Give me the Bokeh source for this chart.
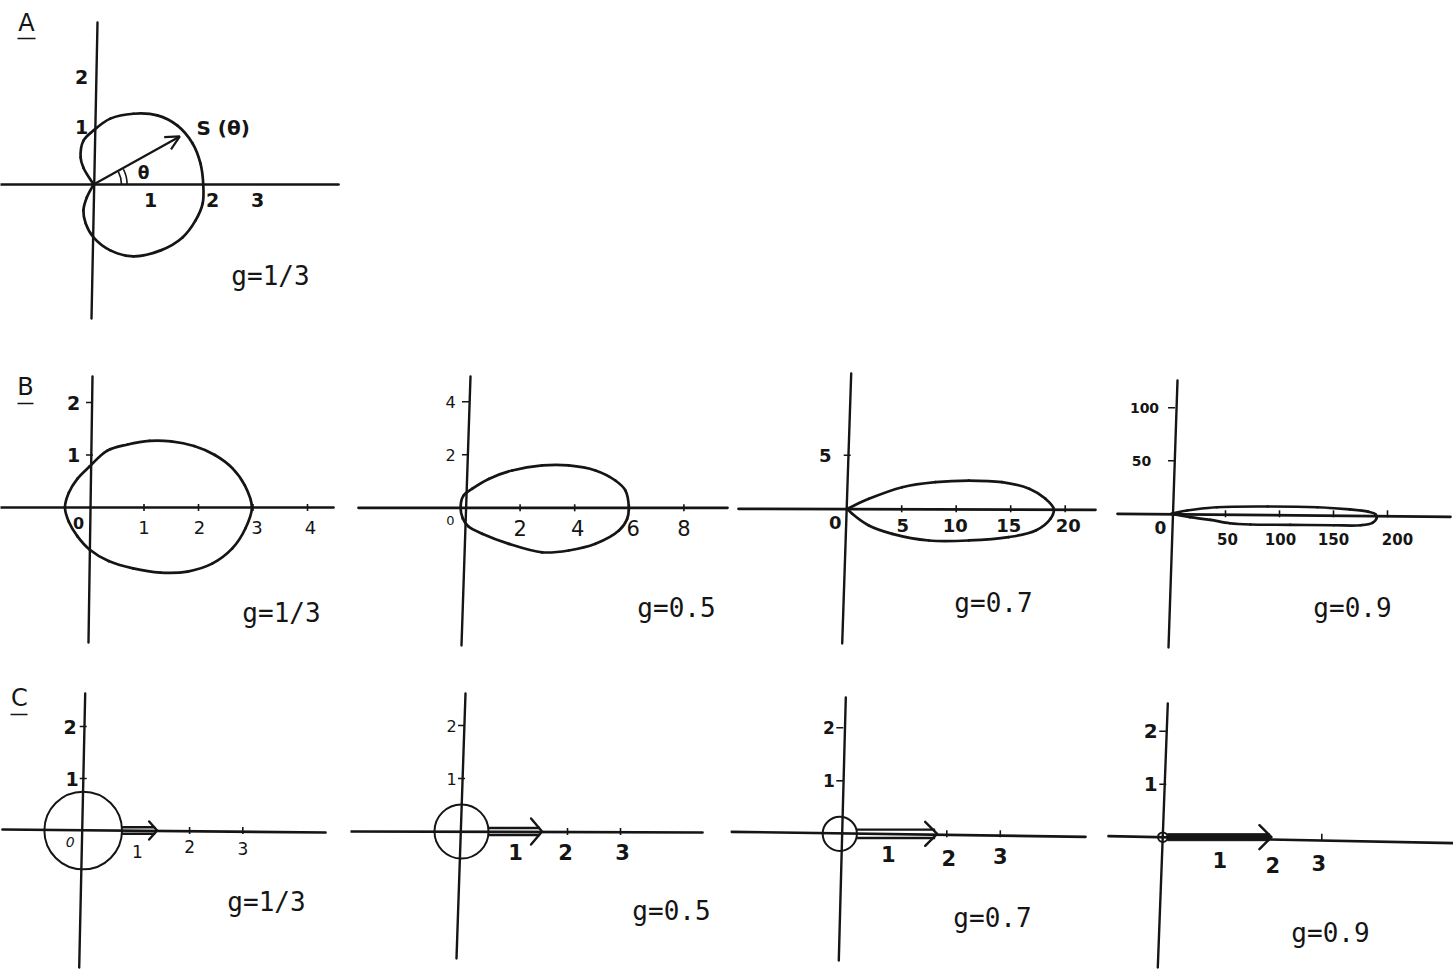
import numpy as np
from bokeh.plotting import figure
from bokeh.layouts import column, row
from bokeh.models import Range1d, Arrow, OpenHead
from bokeh.core.properties import value
from bokeh.embed import file_html
from bokeh.resources import INLINE

INK = "#151515"
HAND = "DejaVu Sans"
TYPE = "DejaVu Sans Mono"

# ---------------- data ----------------
# A: scattering diagram S(theta) for g = 1/3 (outline points, data units)
A_X = [0.0, -0.18, -0.23, -0.18, 0.0, 0.30, 0.71, 1.14, 1.50, 1.77, 1.91, 1.96,
       1.95, 1.82, 1.59, 1.20, 0.71, 0.30, 0.0, -0.14, -0.18, -0.12, 0.0]
A_Y = [0.0, 0.31, 0.50, 0.81, 1.0, 1.22, 1.31, 1.28, 1.09, 0.76, 0.39, 0.0,
       -0.35, -0.67, -0.98, -1.22, -1.33, -1.22, -0.98, -0.72, -0.48, -0.24, 0.0]
A_THETA_DEG = 30
A_ARROW_R = 1.78
A_XTICKS = [1, 2, 3]
A_YTICKS = [1, 2]
A_G = "g=1/3"

# B: phase functions for increasing asymmetry g (outline points, data units)
B_G = ["g=1/3", "g=0.5", "g=0.7", "g=0.9"]
B1_X = [2.98, 2.85, 2.62, 2.30, 1.92, 1.50, 1.10, 0.70, 0.32, 0.0, -0.22, -0.38,
        -0.45, -0.38, -0.22, 0.0, 0.35, 0.80, 1.30, 1.80, 2.25, 2.62, 2.86]
B1_Y = [0.0, 0.42, 0.75, 1.00, 1.17, 1.26, 1.27, 1.20, 1.08, 0.78, 0.55, 0.28,
        0.0, -0.27, -0.55, -0.80, -1.02, -1.16, -1.24, -1.22, -1.07, -0.78, -0.40]
B2_X = [5.98, 5.86, 5.49, 4.76, 3.78, 2.81, 1.71, 0.85, 0.25, -0.08, -0.18,
        -0.10, 0.10, 0.61, 1.59, 2.81, 3.78, 4.76, 5.62, 5.92]
B2_Y = [0.0, 0.65, 1.03, 1.41, 1.60, 1.60, 1.41, 1.09, 0.72, 0.45, 0.0,
        -0.40, -0.70, -0.98, -1.36, -1.68, -1.61, -1.36, -0.86, -0.42]
B3_X = [0.0, 1.98, 5.05, 8.10, 11.16, 14.2, 16.7, 18.2, 18.95, 18.65, 17.3,
        14.8, 11.16, 7.5, 4.13, 1.98, 0.46, 0.0]
B3_Y = [0.0, 0.93, 2.02, 2.49, 2.64, 2.49, 1.87, 0.93, 0.0, -0.93, -2.03,
        -2.65, -2.96, -2.96, -2.34, -1.56, -0.47, 0.0]
B4_X = [0, 14.5, 42, 89, 135, 165, 182, 189, 190, 186, 175, 150, 110, 73, 54, 36, 17, 0]
B4_Y = [0, 3.1, 6.2, 6.9, 6.2, 4.2, 2.0, -0.5, -4.0, -8.5, -10.8, -10.8, -10.4,
        -10.1, -8.9, -5.7, -3.2, 0]
B_XTICKS = [[1, 2, 3, 4], [2, 4, 6, 8], [5, 10, 15, 20], [50, 100, 150, 200]]
B_YTICKS = [[1, 2], [2, 4], [5], [50, 100]]

# C: isotropic part (circle radius) plus forward peak (arrow tip)
C_G = ["g=1/3", "g=0.5", "g=0.7", "g=0.9"]
C_CIRCLE_R = [0.73, 0.51, 0.32, 0.09]
C_PEAK_TIP = [1.39, 1.52, 1.82, 2.05]
C_XTICKS = [1, 2, 3]
C_YTICKS = [1, 2]


# ---------------- drawing helpers ----------------
def bezier_segments(xs, ys, sx, sy, closed):
    """Centripetal Catmull-Rom through the outline points, as cubic Bezier pieces."""
    pts = np.column_stack([np.asarray(xs, float) * sx, np.asarray(ys, float) * sy])
    n = len(pts)
    if closed:
        ext = np.vstack([pts[-1], pts, pts[0], pts[1]])
        nseg = n
    else:
        ext = np.vstack([2 * pts[0] - pts[1], pts, 2 * pts[-1] - pts[-2]])
        nseg = n - 1
    out = {k: [] for k in ("x0", "y0", "x1", "y1", "cx0", "cy0", "cx1", "cy1")}
    for i in range(nseg):
        p0, p1, p2, p3 = ext[i], ext[i + 1], ext[i + 2], ext[i + 3]
        d0 = max(np.linalg.norm(p1 - p0) ** 0.5, 1e-6)
        d1 = max(np.linalg.norm(p2 - p1) ** 0.5, 1e-6)
        d2 = max(np.linalg.norm(p3 - p2) ** 0.5, 1e-6)
        m1 = (p1 - p0) / d0 - (p2 - p0) / (d0 + d1) + (p2 - p1) / d1
        m2 = (p2 - p1) / d1 - (p3 - p1) / (d1 + d2) + (p3 - p2) / d2
        c1 = p1 + m1 * d1 / 3
        c2 = p2 - m2 * d1 / 3
        out["x0"].append(p1[0] / sx); out["y0"].append(p1[1] / sy)
        out["x1"].append(p2[0] / sx); out["y1"].append(p2[1] / sy)
        out["cx0"].append(c1[0] / sx); out["cy0"].append(c1[1] / sy)
        out["cx1"].append(c2[0] / sx); out["cy1"].append(c2[1] / sy)
    return out


class Panel:
    def __init__(self, w, h, ox, oy, sx, sy):
        self.ox, self.oy, self.sx, self.sy = ox, oy, sx, sy
        self.p = figure(width=w, height=h,
                        x_range=Range1d(-ox / sx, (w - ox) / sx),
                        y_range=Range1d(-(h - oy) / sy, oy / sy),
                        output_backend="svg", toolbar_location=None,
                        x_axis_type=None, y_axis_type=None, min_border=0,
                        outline_line_color=None,
                        background_fill_color="white", border_fill_color="white")

    def at(self, px, py):
        return (px - self.ox) / self.sx, (self.oy - py) / self.sy

    def axes(self, h_span, v_span, h_drop=(0, 0), v_lean=(0, 0), width=2.7):
        xl = (h_span[0] - self.ox) / self.sx
        xr = (h_span[1] - self.ox) / self.sx
        self.p.line([xl, xr], [-h_drop[0] / self.sy, -h_drop[1] / self.sy],
                    line_color=INK, line_width=width, line_cap="round")
        yt = (self.oy - v_span[0]) / self.sy
        yb = (self.oy - v_span[1]) / self.sy
        self.p.line([v_lean[0] / self.sx, v_lean[1] / self.sx], [yt, yb],
                    line_color=INK, line_width=width - 0.3, line_cap="round")

    def ticks(self, xt, yt, size=3.5):
        if xt:
            self.p.segment(x0=xt, y0=[-size / self.sy] * len(xt), x1=xt,
                           y1=[size / self.sy] * len(xt), line_color=INK, line_width=1.6)
        if yt:
            self.p.segment(x0=[-size / self.sx] * len(yt), y0=yt,
                           x1=[size / self.sx] * len(yt), y1=yt,
                           line_color=INK, line_width=1.6)

    def text(self, xs, ys, texts, size, bold=False, font=HAND, align="center",
             dx=0, dy=0, italic=False):
        style = "bold" if bold else "normal"
        if italic:
            style = "bold italic" if bold else "italic"
        self.p.text(x=xs, y=ys, text=texts, text_font=value(font),
                    text_font_size=value(f"{size}px"), text_font_style=value(style),
                    text_align=value(align), text_baseline=value("middle"),
                    text_color=INK, x_offset=dx, y_offset=dy)

    def text_px(self, px, py, s, size, **kw):
        x, y = self.at(px, py)
        self.text([x], [y], [s], size, **kw)

    def xlabels(self, ticks, dy, dx=0, size=18, bold=True):
        self.text(ticks, [0] * len(ticks), [str(t) for t in ticks], size, bold=bold, dx=dx, dy=dy)

    def ylabels(self, ticks, dx, dy=0, size=18, bold=True):
        self.text([0] * len(ticks), ticks, [str(t) for t in ticks], size, bold=bold, dx=dx, dy=dy)

    def curve(self, xs, ys, closed, width=2.7):
        seg = bezier_segments(xs, ys, self.sx, self.sy, closed)
        self.p.bezier(line_color=INK, line_width=width, line_cap="round", **seg)

    def letter(self, s, px, py, ux0, ux1, uy):
        self.text_px(px, py, s, 24)
        x0, y0 = self.at(ux0, uy)
        x1, _ = self.at(ux1, uy)
        self.p.line([x0, x1], [y0, y0], line_color=INK, line_width=1.5)

    def g_label(self, s, px, py):
        self.text_px(px, py, s, 26, font=TYPE)


# ---------------- panel A ----------------
pa = Panel(355, 350, 93, 184, 56, 54)
pa.axes((0, 338), (22, 318), v_lean=(4, -2))
pa.curve(A_X, A_Y, closed=False)
th = np.radians(A_THETA_DEG)
pa.p.add_layout(Arrow(end=OpenHead(size=14, line_color=INK, line_width=2.2),
                      x_start=0, y_start=0,
                      x_end=A_ARROW_R * np.cos(th), y_end=A_ARROW_R * np.sin(th),
                      line_color=INK, line_width=2.2))
pa.p.arc(x=[0, 0], y=[0, 0], radius=[0.5, 0.6], start_angle=0,
         end_angle=np.radians(A_THETA_DEG - 3), line_color=INK, line_width=1.6)
pa.text_px(196, 127, "S (θ)", 20, bold=True, align="left")
pa.text_px(143, 172, "θ", 17, bold=True)
pa.xlabels(A_XTICKS, dy=15, dx=[1, 7, -4], size=19)
pa.ylabels(A_YTICKS, dx=-12, dy=[-4, 0], size=19)
pa.letter("A", 26, 22, 17, 35, 38)
pa.g_label(A_G, 270, 275)

# ---------------- row B ----------------
b_cfg = [
    dict(w=355, ox=89, oy=157, sx=54.5, sy=52.5, h=(0, 333), v=(26, 292), lean=(3, -1), drop=(0, 0),
         xdy=20, xdx=[0, 1, 4, 3], xsize=18, xbold=False, ydx=-16, ysize=19, ybold=True,
         zero=(-11, 15, 16, True), g=(281, 262), closed=True),
    dict(w=380, ox=110, oy=157.3, sx=27.3, sy=26.5, h=(3, 372), v=(26, 295), lean=(5, -4), drop=(0, 0),
         xdy=20, xdx=[0, 3, 4, 0], xsize=21, xbold=False, ydx=-15, ysize=16, ybold=False,
         zero=(-15, 13, 13, False), g=(321, 257), closed=True),
    dict(w=365, ox=111.7, oy=158.3, sx=10.9, sy=10.7, h=(3, 360), v=(23, 293), lean=(4, -5), drop=(0, 1),
         xdy=17, xdx=[1, -1, -2, 3], xsize=18, xbold=True, ydx=-22, ysize=18, ybold=True,
         zero=(-12, 14, 18, True), g=(258, 252), closed=False),
    dict(w=353, ox=71, oy=163.3, sx=1.08, sy=1.06, h=(17, 350), v=(30, 297), lean=(6, -3), drop=(0, 3),
         xdy=25, xdx=[2, 1, 0, 10], xsize=15, xbold=True, ydx=[-30, -27], ysize=14, ybold=True,
         zero=(-11, 14, 17, True), g=(252, 257), closed=False),
]
b_curves = [(B1_X, B1_Y), (B2_X, B2_Y), (B3_X, B3_Y), (B4_X, B4_Y)]
row_b = []
for i, cfg in enumerate(b_cfg):
    pb = Panel(cfg["w"], 315, cfg["ox"], cfg["oy"], cfg["sx"], cfg["sy"])
    pb.axes(cfg["h"], cfg["v"], h_drop=cfg["drop"], v_lean=cfg["lean"])
    pb.ticks(B_XTICKS[i], B_YTICKS[i])
    pb.curve(b_curves[i][0], b_curves[i][1], closed=cfg["closed"])
    pb.xlabels(B_XTICKS[i], dy=cfg["xdy"], dx=cfg["xdx"], size=cfg["xsize"], bold=cfg["xbold"])
    pb.ylabels(B_YTICKS[i], dx=cfg["ydx"], size=cfg["ysize"], bold=cfg["ybold"])
    zdx, zdy, zsize, zbold = cfg["zero"]
    pb.text([0], [0], ["0"], zsize, bold=zbold, dx=zdx, dy=zdy)
    pb.g_label(B_G[i], *cfg["g"])
    if i == 0:
        pb.letter("B", 25, 36, 17, 33, 53)
    row_b.append(pb.p)

# ---------------- row C ----------------
c_cfg = [
    dict(w=350, ox=82.7, oy=165, sx=53.2, sy=52, h=(2, 325), v=(28, 302), lean=(2, -4), drop=(-1, 2),
         xdy=[21, 16, 18], xdx=[1, 0, 0], xsize=17, xbold=False, ydx=[-11, -13], ysize=19, ybold=True,
         shaft=3.2, solid=False, head=(8, 9), g=(266, 236)),
    dict(w=380, ox=111, oy=166, sx=53, sy=53, h=(0, 352), v=(28, 293), lean=(4, -5), drop=(0, 1),
         xdy=20, xdx=[1, -2, 2], xsize=21, xbold=True, ydx=-10, ysize=16, ybold=False,
         shaft=3.5, solid=False, head=(11, 13), g=(321, 245)),
    dict(w=375, ox=109.3, oy=168.3, sx=53.5, sy=53, h=(1, 355), v=(32, 295), lean=(6, -1), drop=(-2, 3),
         xdy=[20, 24, 22], xdx=[-5, 2, 0], xsize=21, xbold=True, ydx=-11, ysize=17, ybold=True,
         shaft=4.2, solid=False, head=(12, 12), g=(262, 252)),
    dict(w=348, ox=57.3, oy=171.7, sx=53, sy=53, h=(3, 348), v=(38, 302), lean=(5, -5), drop=(-1, 6),
         xdy=[23, 28, 26], xdx=[4, 4, -3], xsize=21, xbold=True, ydx=-12, ysize=20, ybold=True,
         shaft=3.5, solid=True, head=(12, 12), g=(225, 267)),
]
row_c = []
for i, cfg in enumerate(c_cfg):
    pc = Panel(cfg["w"], 305, cfg["ox"], cfg["oy"], cfg["sx"], cfg["sy"])
    pc.axes(cfg["h"], cfg["v"], h_drop=cfg["drop"], v_lean=cfg["lean"])
    pc.ticks(C_XTICKS[1:], C_YTICKS)
    r = C_CIRCLE_R[i]
    tip = C_PEAK_TIP[i]
    pc.p.circle(x=[0], y=[0], radius=r, fill_color=None, line_color=INK, line_width=2.0)
    hh = cfg["shaft"] / pc.sy
    end = tip - 2 / pc.sx
    if cfg["solid"]:
        pc.p.quad(left=[r], right=[end], bottom=[-hh], top=[hh],
                  fill_color=INK, line_color=INK, line_width=1)
    else:
        pc.p.segment(x0=[r, r], y0=[hh, -hh], x1=[end, end], y1=[hh, -hh],
                     line_color=INK, line_width=2.4)
    back, spread = cfg["head"]
    pc.p.line([tip - back / pc.sx, tip, tip - back / pc.sx],
              [spread / pc.sy, 0, -spread / pc.sy],
              line_color=INK, line_width=2.4, line_join="round", line_cap="round")
    pc.xlabels(C_XTICKS, dy=cfg["xdy"], dx=cfg["xdx"], size=cfg["xsize"], bold=cfg["xbold"])
    pc.ylabels(C_YTICKS, dx=cfg["ydx"], size=cfg["ysize"], bold=cfg["ybold"])
    if i == 0:
        pc.text([0], [0], ["0"], 14, italic=True, dx=-13, dy=11)
        pc.letter("C", 19, 32, 10, 27, 49)
    pc.g_label(C_G[i], *cfg["g"])
    row_c.append(pc.p)

layout = column(row(pa.p), row(*row_b), row(*row_c))
open("out.html", "w").write(file_html(layout, INLINE))
